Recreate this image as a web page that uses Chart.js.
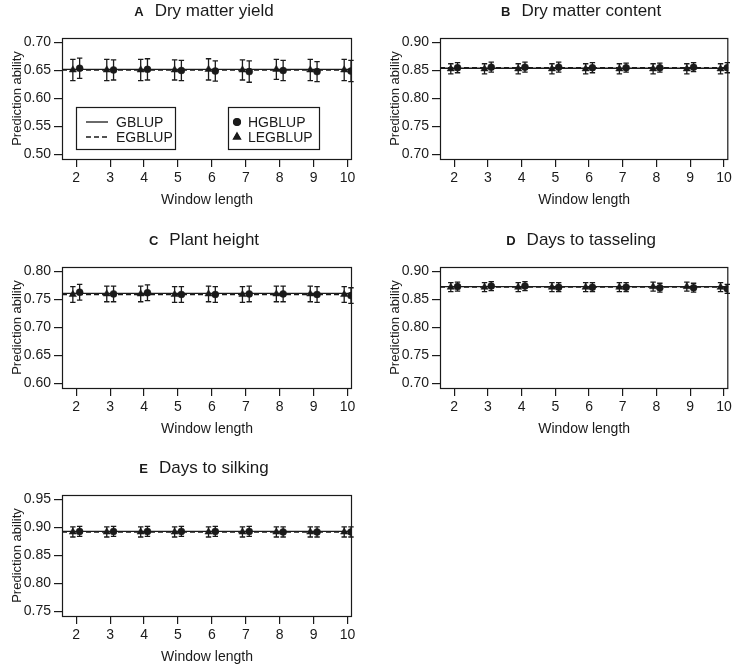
<!DOCTYPE html>
<html>
<head>
<meta charset="utf-8">
<script src="https://cdn.jsdelivr.net/npm/chart.js@4.4.1/dist/chart.umd.min.js"></script>
<style>
body { margin: 0; background: #fff; width: 733px; height: 666px; position: relative; overflow: hidden; }
canvas { position: absolute; }
</style>
</head>
<body>
<canvas id="pA" width="366" height="209" style="left:0px;top:0px"></canvas>
<canvas id="pB" width="355" height="209" style="left:378px;top:0px"></canvas>
<canvas id="pC" width="366" height="209" style="left:0px;top:229px"></canvas>
<canvas id="pD" width="355" height="209" style="left:378px;top:229px"></canvas>
<canvas id="pE" width="366" height="209" style="left:0px;top:457px"></canvas>
<script>
Chart.defaults.font.family = '"Liberation Sans", Arial, sans-serif';
Chart.defaults.color = '#1a1a1a';

var windows = [2, 3, 4, 5, 6, 7, 8, 9, 10];
var xMin = 1.58, xMax = 10.13;

// A Dry matter yield
var ticksA = [0.50, 0.55, 0.60, 0.65, 0.70];
var gblupA = 0.652, egblupA = 0.651;
var hgblupA = [0.654, 0.651, 0.652, 0.650, 0.649, 0.648, 0.650, 0.648, 0.649];
var hgErrA = [0.018, 0.018, 0.019, 0.018, 0.018, 0.019, 0.018, 0.018, 0.019];
var legblupA = [0.651, 0.651, 0.651, 0.651, 0.652, 0.651, 0.652, 0.651, 0.651];
var legErrA = [0.019, 0.019, 0.019, 0.018, 0.019, 0.018, 0.018, 0.019, 0.019];

// B Dry matter content
var ticksB = [0.70, 0.75, 0.80, 0.85, 0.90];
var gblupB = 0.854, egblupB = 0.855;
var hgblupB = [0.855, 0.856, 0.856, 0.856, 0.855, 0.855, 0.855, 0.856, 0.855];
var hgErrB = [0.009, 0.009, 0.009, 0.009, 0.009, 0.008, 0.008, 0.008, 0.009];
var legblupB = [0.853, 0.853, 0.853, 0.853, 0.853, 0.853, 0.853, 0.853, 0.853];
var legErrB = [0.009, 0.009, 0.009, 0.009, 0.009, 0.009, 0.009, 0.009, 0.009];

// C Plant height
var ticksC = [0.60, 0.65, 0.70, 0.75, 0.80];
var gblupC = 0.761, egblupC = 0.759;
var hgblupC = [0.763, 0.760, 0.762, 0.759, 0.759, 0.760, 0.760, 0.759, 0.757];
var hgErrC = [0.014, 0.014, 0.014, 0.014, 0.014, 0.014, 0.014, 0.014, 0.014];
var legblupC = [0.759, 0.760, 0.760, 0.759, 0.760, 0.759, 0.760, 0.760, 0.759];
var legErrC = [0.014, 0.014, 0.014, 0.014, 0.014, 0.014, 0.014, 0.014, 0.014];

// D Days to tasseling
var ticksD = [0.70, 0.75, 0.80, 0.85, 0.90];
var gblupD = 0.873, egblupD = 0.872;
var hgblupD = [0.873, 0.874, 0.874, 0.872, 0.872, 0.872, 0.871, 0.871, 0.869];
var hgErrD = [0.008, 0.008, 0.008, 0.008, 0.008, 0.008, 0.008, 0.008, 0.008];
var legblupD = [0.872, 0.872, 0.872, 0.872, 0.872, 0.872, 0.873, 0.873, 0.872];
var legErrD = [0.008, 0.008, 0.008, 0.008, 0.008, 0.008, 0.008, 0.008, 0.008];

// E Days to silking
var ticksE = [0.75, 0.80, 0.85, 0.90, 0.95];
var gblupE = 0.893, egblupE = 0.892;
var hgblupE = [0.893, 0.893, 0.893, 0.893, 0.893, 0.893, 0.892, 0.892, 0.892];
var hgErrE = [0.009, 0.009, 0.009, 0.009, 0.009, 0.009, 0.009, 0.009, 0.009];
var legblupE = [0.892, 0.892, 0.892, 0.892, 0.892, 0.892, 0.892, 0.892, 0.892];
var legErrE = [0.009, 0.009, 0.009, 0.009, 0.009, 0.009, 0.009, 0.009, 0.009];

var ink = '#1a1a1a';

// outer box round the plot region
var boxPlugin = {
    id: 'boxPlugin',
    afterDraw: function (chart) {
        var a = chart.chartArea, ctx = chart.ctx;
        ctx.save();
        ctx.strokeStyle = ink;
        ctx.lineWidth = 1.2;
        ctx.strokeRect(a.left + 0.5, a.top + 0.5, a.right - a.left - 1, a.bottom - a.top);
        ctx.restore();
    }
};

// vertical error bars with caps
var errorBars = {
    id: 'errorBars',
    beforeDatasetsDraw: function (chart) {
        var ctx = chart.ctx, xs = chart.scales.x, ys = chart.scales.y;
        ctx.save();
        ctx.strokeStyle = ink;
        ctx.lineWidth = 1.3;
        chart.data.datasets.forEach(function (ds) {
            if (!ds.err) return;
            ds.data.forEach(function (pt, i) {
                var x = xs.getPixelForValue(pt.x);
                var y1 = ys.getPixelForValue(pt.y - ds.err[i]);
                var y2 = ys.getPixelForValue(pt.y + ds.err[i]);
                ctx.beginPath();
                ctx.moveTo(x, y1); ctx.lineTo(x, y2);
                ctx.moveTo(x - 2.7, y1); ctx.lineTo(x + 2.7, y1);
                ctx.moveTo(x - 2.7, y2); ctx.lineTo(x + 2.7, y2);
                ctx.stroke();
            });
        });
        ctx.restore();
    }
};

// panel title: bold letter + plain text
var panelTitle = {
    id: 'panelTitle',
    afterDraw: function (chart, args, opts) {
        var ctx = chart.ctx, a = chart.chartArea;
        var fLetter = 'bold 13px "Liberation Sans", Arial, sans-serif';
        var fText = '17px "Liberation Sans", Arial, sans-serif';
        ctx.save();
        ctx.fillStyle = ink;
        ctx.textBaseline = 'alphabetic';
        ctx.font = fLetter;
        var w1 = ctx.measureText(opts.letter).width;
        ctx.font = fText;
        var w2 = ctx.measureText(opts.text).width;
        var gap = 11;
        var x0 = (a.left + a.right) / 2 - 3 - (w1 + gap + w2) / 2;
        ctx.font = fLetter;
        ctx.fillText(opts.letter, x0, 16);
        ctx.font = fText;
        ctx.fillText(opts.text, x0 + w1 + gap, 16);
        ctx.restore();
    }
};

// two framed legend boxes (panel A only)
var boxLegend = {
    id: 'boxLegend',
    afterDraw: function (chart, args, opts) {
        if (!opts.show) return;
        var ctx = chart.ctx, ds = chart.data.datasets;
        ctx.save();
        ctx.fillStyle = '#fff';
        ctx.strokeStyle = ink;
        ctx.lineWidth = 1.2;
        ctx.fillRect(76, 107, 99, 42); ctx.strokeRect(76.5, 107.5, 99, 42);
        ctx.fillRect(228, 107, 91, 42); ctx.strokeRect(228.5, 107.5, 91, 42);
        ctx.font = '14px "Liberation Sans", Arial, sans-serif';
        ctx.textBaseline = 'middle';
        ctx.fillStyle = ink;
        var rows = [122, 137];
        [0, 1].forEach(function (k) {
            ctx.save();
            ctx.lineWidth = 1.3;
            ctx.setLineDash(ds[k].borderDash || []);
            ctx.beginPath();
            ctx.moveTo(86, rows[k]); ctx.lineTo(108, rows[k]);
            ctx.stroke();
            ctx.restore();
            ctx.fillText(ds[k].label, 116, rows[k] + 1);
        });
        [3, 2].forEach(function (k, r) {
            Chart.helpers.drawPoint(ctx, {
                pointStyle: ds[k].pointStyle, radius: ds[k].pointRadius, borderWidth: 1
            }, 237, rows[r]);
            ctx.fill();
            ctx.fillText(ds[k].label, 248, rows[r] + 1);
        });
        ctx.restore();
    }
};

function makePanel(id, letter, text, yTicks, g, eg, hg, hgErr, leg, legErr, rightPad, showLegend) {
    var lo = yTicks[0], hi = yTicks[yTicks.length - 1];
    var ext = (hi - lo) * 0.04;
    return new Chart(document.getElementById(id), {
        type: 'scatter',
        data: {
            datasets: [
                {
                    type: 'line', label: 'GBLUP',
                    data: [{ x: xMin, y: g }, { x: xMax, y: g }],
                    borderColor: ink, borderWidth: 1.4, pointRadius: 0, fill: false,
                },
                {
                    type: 'line', label: 'EGBLUP',
                    data: [{ x: xMin, y: eg }, { x: xMax, y: eg }],
                    borderColor: ink, borderWidth: 1.4, borderDash: [5, 3], pointRadius: 0, fill: false,
                },
                {
                    label: 'LEGBLUP',
                    data: windows.map(function (w, i) { return { x: w - 0.1, y: leg[i] }; }),
                    err: legErr,
                    pointStyle: 'triangle', pointRadius: 4.2,
                    backgroundColor: ink, borderColor: ink, borderWidth: 0.5,
                },
                {
                    label: 'HGBLUP',
                    data: windows.map(function (w, i) { return { x: w + 0.1, y: hg[i] }; }),
                    err: hgErr,
                    pointStyle: 'circle', pointRadius: 3.5,
                    backgroundColor: ink, borderColor: ink, borderWidth: 0.5,
                },
            ]
        },
        options: {
            responsive: false,
            animation: false,
            events: [],
            layout: { padding: { top: 38, right: rightPad, left: 0, bottom: 0 } },
            plugins: {
                legend: { display: false },
                tooltip: { enabled: false },
                panelTitle: { letter: letter, text: text },
                boxLegend: { show: showLegend },
            },
            scales: {
                x: {
                    type: 'linear', min: xMin, max: xMax,
                    afterBuildTicks: function (s) { s.ticks = windows.map(function (v) { return { value: v }; }); },
                    afterFit: function (s) { s.height = 50; s.paddingLeft = 0; s.paddingRight = 0; },
                    grid: { drawOnChartArea: false, drawTicks: true, tickLength: 8, color: ink, lineWidth: 1.2 },
                    border: { display: false },
                    ticks: { font: { size: 14 }, padding: 3, maxRotation: 0, autoSkip: false },
                    title: { display: true, text: 'Window length', font: { size: 14 }, padding: { top: 0, bottom: 0 } },
                },
                y: {
                    min: lo - ext, max: hi + ext,
                    afterBuildTicks: function (s) { s.ticks = yTicks.map(function (v) { return { value: v }; }); },
                    afterFit: function (s) { s.width = 62; s.paddingTop = 0; s.paddingBottom = 0; },
                    grid: { drawOnChartArea: false, drawTicks: true, tickLength: 8, color: ink, lineWidth: 1.2 },
                    border: { display: false },
                    ticks: {
                        font: { size: 14 }, padding: 3, autoSkip: false,
                        callback: function (v) { return Number(v).toFixed(2); }
                    },
                    title: { display: true, text: 'Prediction ability', font: { size: 13 }, padding: { top: 10, bottom: 0 } },
                },
            },
        },
        plugins: [errorBars, boxPlugin, panelTitle, boxLegend],
    });
}

makePanel('pA', 'A', 'Dry matter yield', ticksA, gblupA, egblupA, hgblupA, hgErrA, legblupA, legErrA, 14, true);
makePanel('pB', 'B', 'Dry matter content', ticksB, gblupB, egblupB, hgblupB, hgErrB, legblupB, legErrB, 4, false);
makePanel('pC', 'C', 'Plant height', ticksC, gblupC, egblupC, hgblupC, hgErrC, legblupC, legErrC, 14, false);
makePanel('pD', 'D', 'Days to tasseling', ticksD, gblupD, egblupD, hgblupD, hgErrD, legblupD, legErrD, 4, false);
makePanel('pE', 'E', 'Days to silking', ticksE, gblupE, egblupE, hgblupE, hgErrE, legblupE, legErrE, 14, false);
</script>
</body>
</html>
